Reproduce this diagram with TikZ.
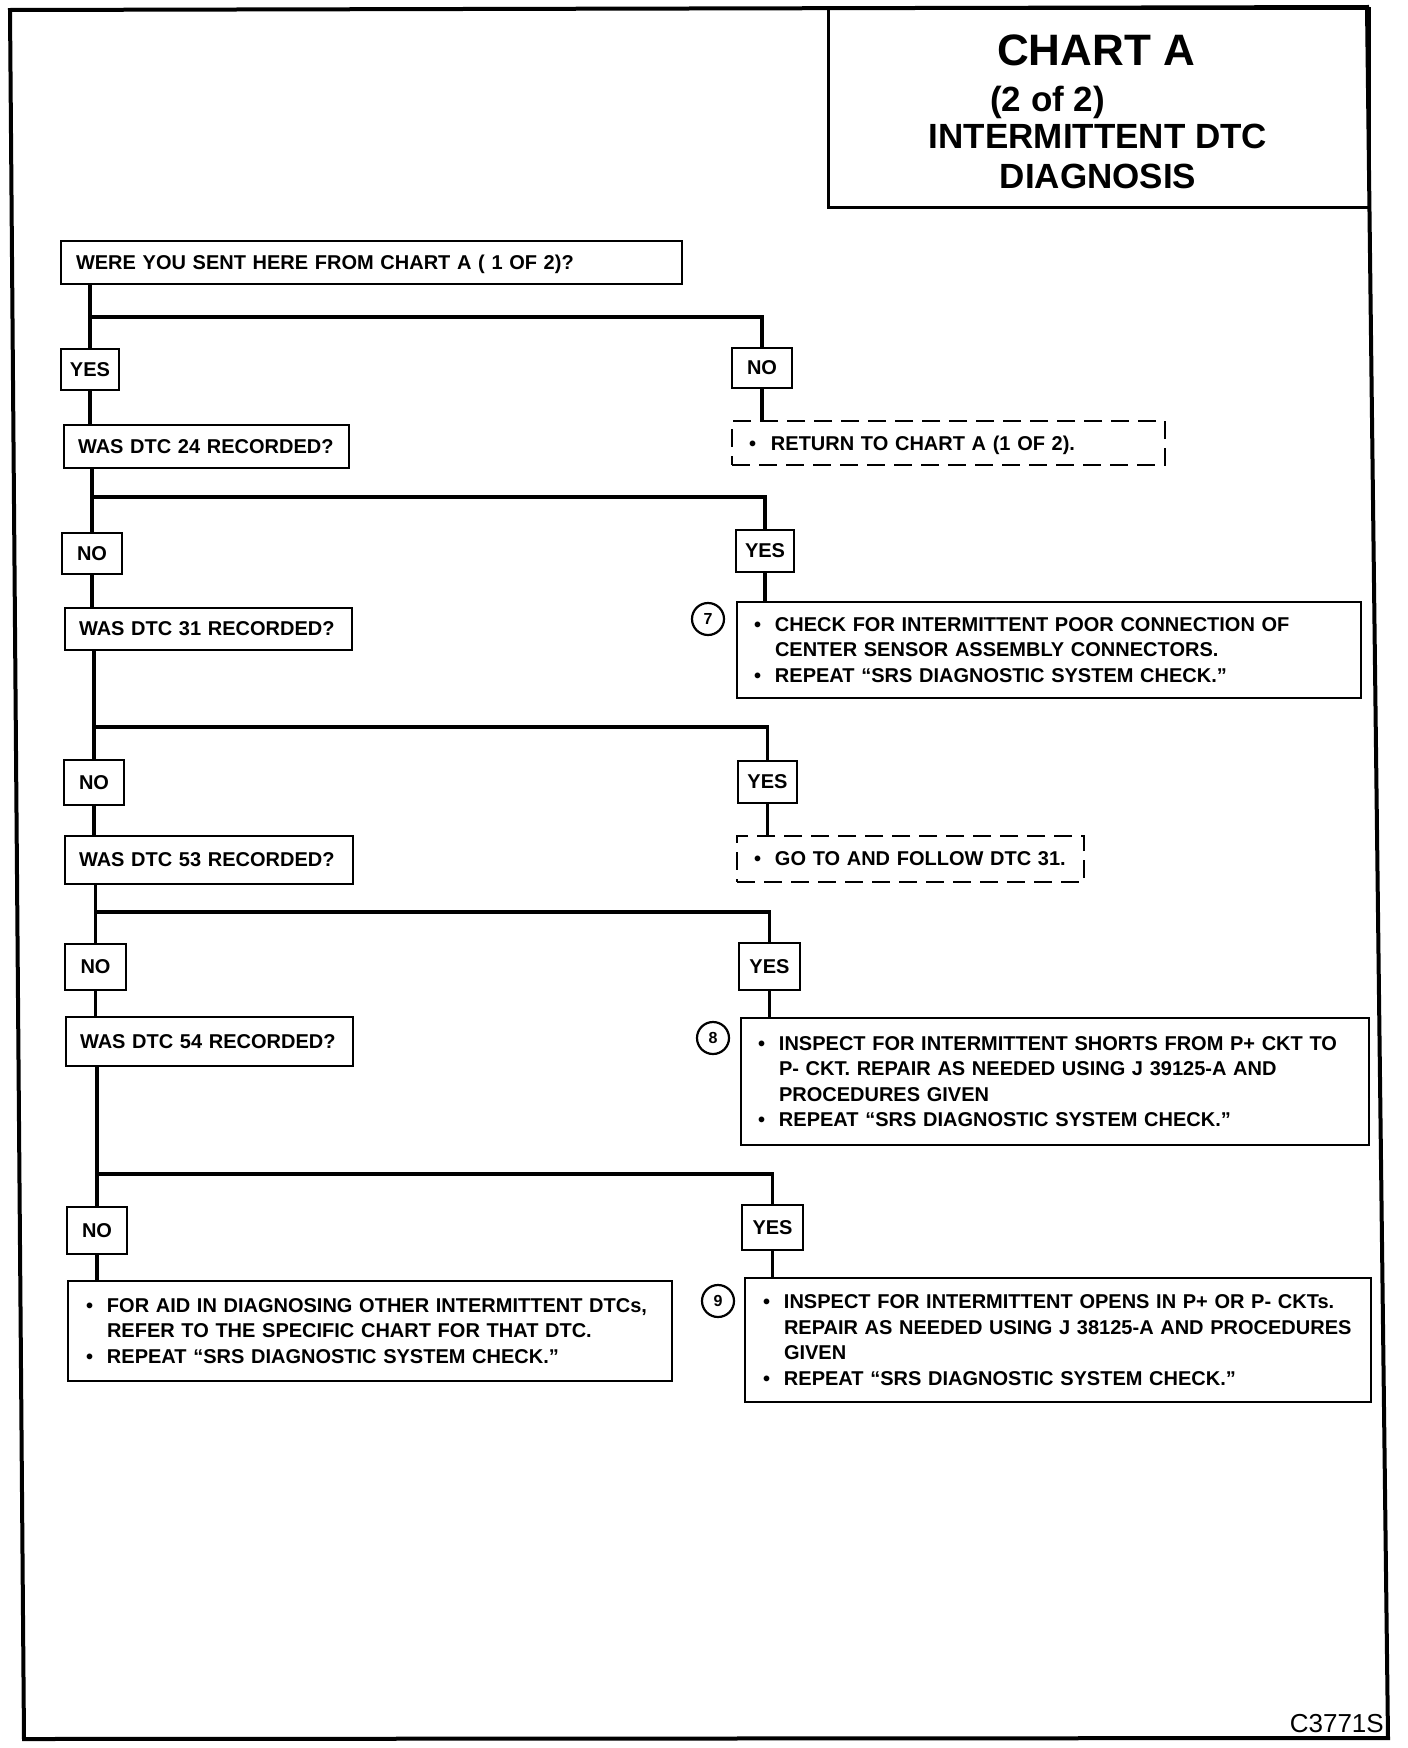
\documentclass[tikz,border=0pt]{standalone}
\usepackage{fontspec}
\setmainfont{Liberation Sans}
\newcommand\bulitem[1]{\makebox[21pt][l]{\textbullet}\mbox{#1}}
\newcommand\contitem[1]{\hspace*{21pt}\mbox{#1}}
\begin{document}
\begin{tikzpicture}[x=1pt,y=-1pt,
  every node/.style={font=\bfseries\fontsize{20}{25.5}\selectfont},
  box/.style={draw, line width=2.5pt, inner sep=0pt, inner xsep=14pt, align=left},
  ans/.style={draw, line width=2.5pt, inner sep=0pt, align=center},
  dbox/.style={box, dash pattern=on 18pt off 9pt},
  num/.style={draw, circle, line width=2.2pt, inner sep=0pt, minimum size=32pt, font=\bfseries\fontsize{16}{16}\selectfont},
  conn/.style={line width=3.5pt},
  ttl/.style={font=\bfseries\fontsize{35}{35}\selectfont, inner sep=0pt}
]
\useasboundingbox (0,0) rectangle (1408,1748);
% frame
\draw[line width=4pt] (10,10) -- (1367,7) -- (1388,1738) -- (24,1739) -- cycle;
% title
\node[draw, line width=3pt, minimum width=541pt, minimum height=199pt, inner sep=0pt] (tb) at (1098.5,108) {};
\node[ttl, font=\bfseries\fontsize{44}{44}\selectfont, anchor=base] (t1) at (1096,65) {CHART A};
\node[ttl, anchor=base west] (t2) at (990,111.5) {(2 of 2)};
\node[ttl, anchor=base] (t3) at (1098,148.5) {INTERMITTENT DTC};
\node[ttl, anchor=base] (t4) at (1098,188.5) {DIAGNOSIS};
\node[anchor=base east, inner sep=0pt, font=\mdseries\fontsize{26}{26}\selectfont] (code) at (1384,1732) {C3771S};

% questions
\node[box, inner xsep=15pt, text width=591pt, minimum height=43pt] (q0) at (371.5,262.5) {\raisebox{0pt}[\height][0pt]{WERE YOU SENT HERE FROM CHART A ( 1 OF 2)?}};
\node[box, text width=257pt, minimum height=43pt] (q24) at (206.5,446.5) {WAS DTC 24 RECORDED?};
\node[box, text width=259pt, minimum height=42pt] (q31) at (208.5,629) {WAS DTC 31 RECORDED?};
\node[box, text width=260pt, minimum height=48pt] (q53) at (209,860) {WAS DTC 53 RECORDED?};
\node[box, text width=259pt, minimum height=49pt] (q54) at (209.5,1041.5) {WAS DTC 54 RECORDED?};

% yes / no
\node[ans, minimum width=58pt, minimum height=41pt] (yes1) at (90,369.5) {YES};
\node[ans, minimum width=60pt, minimum height=40pt] (no1) at (762,368) {NO};
\node[ans, minimum width=60pt, minimum height=41pt] (no2) at (92,553.5) {NO};
\node[ans, minimum width=58pt, minimum height=42pt] (yes2) at (765,551) {YES};
\node[ans, minimum width=60pt, minimum height=45pt] (no3) at (94,782.5) {NO};
\node[ans, minimum width=59pt, minimum height=42pt] (yes3) at (767.5,782) {YES};
\node[ans, minimum width=61pt, minimum height=46pt] (no4) at (95.5,967) {NO};
\node[ans, minimum width=61pt, minimum height=47pt] (yes4) at (769.5,966.5) {YES};
\node[ans, minimum width=60pt, minimum height=47pt] (no5) at (97,1230.5) {NO};
\node[ans, minimum width=61pt, minimum height=45pt] (yes5) at (772.5,1227.5) {YES};

% actions
\node[dbox, inner xsep=17pt, text width=399pt, minimum height=44pt] (ret) at (948.5,443)
  {\raisebox{0pt}[\height][0pt]{\makebox[22pt][l]{\textbullet}RETURN TO CHART A (1 OF 2).}};
\node[box, inner xsep=17pt, text width=590pt, minimum height=96pt] (a7) at (1049,650)
  {\bulitem{CHECK FOR INTERMITTENT POOR CONNECTION OF}\\
   \contitem{CENTER SENSOR ASSEMBLY CONNECTORS.}\\
   \bulitem{REPEAT ``SRS DIAGNOSTIC SYSTEM CHECK.''}};
\node[dbox, inner xsep=17pt, text width=313pt, minimum height=46pt] (go) at (910.5,859)
  {\makebox[21pt][l]{\textbullet}GO TO AND FOLLOW DTC 31.};
\node[box, inner xsep=17pt, text width=594pt, minimum height=127pt] (a8) at (1055,1081.5)
  {\bulitem{INSPECT FOR INTERMITTENT SHORTS FROM P+ CKT TO}\\
   \contitem{P- CKT. REPAIR AS NEEDED USING J 39125-A AND}\\
   \contitem{PROCEDURES GIVEN}\\
   \bulitem{REPEAT ``SRS DIAGNOSTIC SYSTEM CHECK.''}};
\node[box, inner xsep=18pt, text width=568pt, minimum height=100pt] (aL) at (370,1331)
  {\bulitem{FOR AID IN DIAGNOSING OTHER INTERMITTENT DTCs,}\\
   \contitem{REFER TO THE SPECIFIC CHART FOR THAT DTC.}\\
   \bulitem{REPEAT ``SRS DIAGNOSTIC SYSTEM CHECK.''}};
\node[box, inner xsep=18pt, text width=590pt, minimum height=124pt] (a9) at (1058,1340)
  {\bulitem{INSPECT FOR INTERMITTENT OPENS IN P+ OR P- CKTs.}\\
   \contitem{REPAIR AS NEEDED USING J 38125-A AND PROCEDURES}\\
   \contitem{GIVEN}\\
   \bulitem{REPEAT ``SRS DIAGNOSTIC SYSTEM CHECK.''}};

% step numbers
\node[num] (c7) at (708,619) {7};
\node[num] (c8) at (713,1038) {8};
\node[num] (c9) at (718,1301) {9};

% junctions
\coordinate (j1) at (0,317);
\coordinate (j2) at (0,497);
\coordinate (j3) at (0,727);
\coordinate (j4) at (0,912);
\coordinate (j5) at (0,1174);

% connectors
\draw[conn] (q0.south -| yes1.north) -- (yes1.north);
\draw[conn] (yes1.north |- j1) -| (no1.north);
\draw[conn] (yes1.south) -- (yes1.south |- q24.north);
\draw[conn] (no1.south) -- (no1.south |- ret.north);

\draw[conn] (q24.south -| no2.north) -- (no2.north);
\draw[conn] (no2.north |- j2) -| (yes2.north);
\draw[conn] (no2.south) -- (no2.south |- q31.north);
\draw[conn] (yes2.south) -- (yes2.south |- a7.north);

\draw[conn] (q31.south -| no3.north) -- (no3.north);
\draw[conn] (no3.north |- j3) -| (yes3.north);
\draw[conn] (no3.south) -- (no3.south |- q53.north);
\draw[conn] (yes3.south) -- (yes3.south |- go.north);

\draw[conn] (q53.south -| no4.north) -- (no4.north);
\draw[conn] (no4.north |- j4) -| (yes4.north);
\draw[conn] (no4.south) -- (no4.south |- q54.north);
\draw[conn] (yes4.south) -- (yes4.south |- a8.north);

\draw[conn] (q54.south -| no5.north) -- (no5.north);
\draw[conn] (no5.north |- j5) -| (yes5.north);
\draw[conn] (no5.south) -- (no5.south |- aL.north);
\draw[conn] (yes5.south) -- (yes5.south |- a9.north);
\end{tikzpicture}
\end{document}
